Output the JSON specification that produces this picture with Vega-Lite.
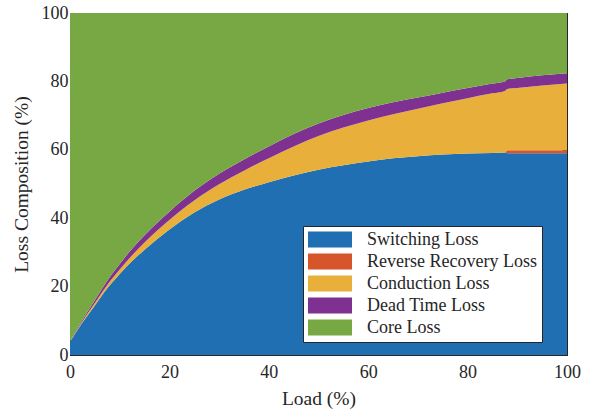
{
  "$schema": "https://vega.github.io/schema/vega-lite/v6.json",
  "width": 497,
  "height": 342,
  "autosize": "none",
  "padding": {"left": 70, "top": 13, "right": 25, "bottom": 57},
  "background": "white",
  "config": {
    "font": "Liberation Serif",
    "view": {"stroke": "#262626", "strokeWidth": 1},
    "axis": {
      "labelFont": "Liberation Serif",
      "titleFont": "Liberation Serif",
      "labelFontSize": 18,
      "titleFontSize": 19.5,
      "titleFontWeight": "normal",
      "labelColor": "#262626",
      "titleColor": "#262626",
      "domainColor": "#262626",
      "tickColor": "#262626",
      "grid": false
    }
  },
  "datasets": {
    "loss": [
      {"load": 0, "type": "Switching Loss", "rank": 1, "value": 3.8},
      {"load": 2.5, "type": "Switching Loss", "rank": 1, "value": 9.5},
      {"load": 5, "type": "Switching Loss", "rank": 1, "value": 14.5},
      {"load": 7.5, "type": "Switching Loss", "rank": 1, "value": 19.5},
      {"load": 10, "type": "Switching Loss", "rank": 1, "value": 23.7},
      {"load": 12.5, "type": "Switching Loss", "rank": 1, "value": 27.5},
      {"load": 15, "type": "Switching Loss", "rank": 1, "value": 30.8},
      {"load": 20, "type": "Switching Loss", "rank": 1, "value": 36.7},
      {"load": 25, "type": "Switching Loss", "rank": 1, "value": 41.7},
      {"load": 30, "type": "Switching Loss", "rank": 1, "value": 45.5},
      {"load": 35, "type": "Switching Loss", "rank": 1, "value": 48.3},
      {"load": 40, "type": "Switching Loss", "rank": 1, "value": 50.5},
      {"load": 45, "type": "Switching Loss", "rank": 1, "value": 52.5},
      {"load": 50, "type": "Switching Loss", "rank": 1, "value": 54.2},
      {"load": 55, "type": "Switching Loss", "rank": 1, "value": 55.5},
      {"load": 60, "type": "Switching Loss", "rank": 1, "value": 56.6},
      {"load": 65, "type": "Switching Loss", "rank": 1, "value": 57.5},
      {"load": 70, "type": "Switching Loss", "rank": 1, "value": 58.1},
      {"load": 75, "type": "Switching Loss", "rank": 1, "value": 58.6},
      {"load": 80, "type": "Switching Loss", "rank": 1, "value": 58.9},
      {"load": 85, "type": "Switching Loss", "rank": 1, "value": 59.1},
      {"load": 87.5, "type": "Switching Loss", "rank": 1, "value": 59.2},
      {"load": 88, "type": "Switching Loss", "rank": 1, "value": 59.0},
      {"load": 90, "type": "Switching Loss", "rank": 1, "value": 59.0},
      {"load": 95, "type": "Switching Loss", "rank": 1, "value": 59.0},
      {"load": 100, "type": "Switching Loss", "rank": 1, "value": 59.0},

      {"load": 0, "type": "Reverse Recovery Loss", "rank": 2, "value": 0},
      {"load": 2.5, "type": "Reverse Recovery Loss", "rank": 2, "value": 0},
      {"load": 5, "type": "Reverse Recovery Loss", "rank": 2, "value": 0},
      {"load": 7.5, "type": "Reverse Recovery Loss", "rank": 2, "value": 0},
      {"load": 10, "type": "Reverse Recovery Loss", "rank": 2, "value": 0},
      {"load": 12.5, "type": "Reverse Recovery Loss", "rank": 2, "value": 0},
      {"load": 15, "type": "Reverse Recovery Loss", "rank": 2, "value": 0},
      {"load": 20, "type": "Reverse Recovery Loss", "rank": 2, "value": 0},
      {"load": 25, "type": "Reverse Recovery Loss", "rank": 2, "value": 0},
      {"load": 30, "type": "Reverse Recovery Loss", "rank": 2, "value": 0},
      {"load": 35, "type": "Reverse Recovery Loss", "rank": 2, "value": 0},
      {"load": 40, "type": "Reverse Recovery Loss", "rank": 2, "value": 0},
      {"load": 45, "type": "Reverse Recovery Loss", "rank": 2, "value": 0},
      {"load": 50, "type": "Reverse Recovery Loss", "rank": 2, "value": 0},
      {"load": 55, "type": "Reverse Recovery Loss", "rank": 2, "value": 0},
      {"load": 60, "type": "Reverse Recovery Loss", "rank": 2, "value": 0},
      {"load": 65, "type": "Reverse Recovery Loss", "rank": 2, "value": 0},
      {"load": 70, "type": "Reverse Recovery Loss", "rank": 2, "value": 0},
      {"load": 75, "type": "Reverse Recovery Loss", "rank": 2, "value": 0},
      {"load": 80, "type": "Reverse Recovery Loss", "rank": 2, "value": 0},
      {"load": 85, "type": "Reverse Recovery Loss", "rank": 2, "value": 0},
      {"load": 87.5, "type": "Reverse Recovery Loss", "rank": 2, "value": 0},
      {"load": 88, "type": "Reverse Recovery Loss", "rank": 2, "value": 0.9},
      {"load": 90, "type": "Reverse Recovery Loss", "rank": 2, "value": 0.9},
      {"load": 95, "type": "Reverse Recovery Loss", "rank": 2, "value": 0.9},
      {"load": 100, "type": "Reverse Recovery Loss", "rank": 2, "value": 0.9},

      {"load": 0, "type": "Conduction Loss", "rank": 3, "value": 0.1},
      {"load": 2.5, "type": "Conduction Loss", "rank": 3, "value": 0.3},
      {"load": 5, "type": "Conduction Loss", "rank": 3, "value": 0.7},
      {"load": 7.5, "type": "Conduction Loss", "rank": 3, "value": 1.0},
      {"load": 10, "type": "Conduction Loss", "rank": 3, "value": 1.3},
      {"load": 12.5, "type": "Conduction Loss", "rank": 3, "value": 1.7},
      {"load": 15, "type": "Conduction Loss", "rank": 3, "value": 2.1},
      {"load": 20, "type": "Conduction Loss", "rank": 3, "value": 2.8},
      {"load": 25, "type": "Conduction Loss", "rank": 3, "value": 3.5},
      {"load": 30, "type": "Conduction Loss", "rank": 3, "value": 4.4},
      {"load": 35, "type": "Conduction Loss", "rank": 3, "value": 5.6},
      {"load": 40, "type": "Conduction Loss", "rank": 3, "value": 7.0},
      {"load": 45, "type": "Conduction Loss", "rank": 3, "value": 8.5},
      {"load": 50, "type": "Conduction Loss", "rank": 3, "value": 9.8},
      {"load": 55, "type": "Conduction Loss", "rank": 3, "value": 11.0},
      {"load": 60, "type": "Conduction Loss", "rank": 3, "value": 12.0},
      {"load": 65, "type": "Conduction Loss", "rank": 3, "value": 12.9},
      {"load": 70, "type": "Conduction Loss", "rank": 3, "value": 13.9},
      {"load": 75, "type": "Conduction Loss", "rank": 3, "value": 15.0},
      {"load": 80, "type": "Conduction Loss", "rank": 3, "value": 16.2},
      {"load": 85, "type": "Conduction Loss", "rank": 3, "value": 17.4},
      {"load": 87.5, "type": "Conduction Loss", "rank": 3, "value": 18.0},
      {"load": 88, "type": "Conduction Loss", "rank": 3, "value": 17.9},
      {"load": 90, "type": "Conduction Loss", "rank": 3, "value": 18.2},
      {"load": 95, "type": "Conduction Loss", "rank": 3, "value": 18.9},
      {"load": 100, "type": "Conduction Loss", "rank": 3, "value": 19.5},

      {"load": 0, "type": "Dead Time Loss", "rank": 4, "value": 0.1},
      {"load": 2.5, "type": "Dead Time Loss", "rank": 4, "value": 0.4},
      {"load": 5, "type": "Dead Time Loss", "rank": 4, "value": 0.8},
      {"load": 7.5, "type": "Dead Time Loss", "rank": 4, "value": 1.2},
      {"load": 10, "type": "Dead Time Loss", "rank": 4, "value": 1.6},
      {"load": 12.5, "type": "Dead Time Loss", "rank": 4, "value": 1.9},
      {"load": 15, "type": "Dead Time Loss", "rank": 4, "value": 2.1},
      {"load": 20, "type": "Dead Time Loss", "rank": 4, "value": 2.4},
      {"load": 25, "type": "Dead Time Loss", "rank": 4, "value": 2.8},
      {"load": 30, "type": "Dead Time Loss", "rank": 4, "value": 3.1},
      {"load": 35, "type": "Dead Time Loss", "rank": 4, "value": 3.3},
      {"load": 40, "type": "Dead Time Loss", "rank": 4, "value": 3.5},
      {"load": 45, "type": "Dead Time Loss", "rank": 4, "value": 3.6},
      {"load": 50, "type": "Dead Time Loss", "rank": 4, "value": 3.7},
      {"load": 55, "type": "Dead Time Loss", "rank": 4, "value": 3.7},
      {"load": 60, "type": "Dead Time Loss", "rank": 4, "value": 3.6},
      {"load": 65, "type": "Dead Time Loss", "rank": 4, "value": 3.5},
      {"load": 70, "type": "Dead Time Loss", "rank": 4, "value": 3.3},
      {"load": 75, "type": "Dead Time Loss", "rank": 4, "value": 3.1},
      {"load": 80, "type": "Dead Time Loss", "rank": 4, "value": 3.0},
      {"load": 85, "type": "Dead Time Loss", "rank": 4, "value": 2.9},
      {"load": 87.5, "type": "Dead Time Loss", "rank": 4, "value": 2.8},
      {"load": 88, "type": "Dead Time Loss", "rank": 4, "value": 2.8},
      {"load": 90, "type": "Dead Time Loss", "rank": 4, "value": 2.9},
      {"load": 95, "type": "Dead Time Loss", "rank": 4, "value": 3.0},
      {"load": 100, "type": "Dead Time Loss", "rank": 4, "value": 3.0},

      {"load": 0, "type": "Core Loss", "rank": 5, "value": 96.0},
      {"load": 2.5, "type": "Core Loss", "rank": 5, "value": 89.8},
      {"load": 5, "type": "Core Loss", "rank": 5, "value": 84.0},
      {"load": 7.5, "type": "Core Loss", "rank": 5, "value": 78.3},
      {"load": 10, "type": "Core Loss", "rank": 5, "value": 73.4},
      {"load": 12.5, "type": "Core Loss", "rank": 5, "value": 68.9},
      {"load": 15, "type": "Core Loss", "rank": 5, "value": 65.0},
      {"load": 20, "type": "Core Loss", "rank": 5, "value": 58.1},
      {"load": 25, "type": "Core Loss", "rank": 5, "value": 52.0},
      {"load": 30, "type": "Core Loss", "rank": 5, "value": 47.0},
      {"load": 35, "type": "Core Loss", "rank": 5, "value": 42.8},
      {"load": 40, "type": "Core Loss", "rank": 5, "value": 39.0},
      {"load": 45, "type": "Core Loss", "rank": 5, "value": 35.4},
      {"load": 50, "type": "Core Loss", "rank": 5, "value": 32.3},
      {"load": 55, "type": "Core Loss", "rank": 5, "value": 29.8},
      {"load": 60, "type": "Core Loss", "rank": 5, "value": 27.8},
      {"load": 65, "type": "Core Loss", "rank": 5, "value": 26.1},
      {"load": 70, "type": "Core Loss", "rank": 5, "value": 24.7},
      {"load": 75, "type": "Core Loss", "rank": 5, "value": 23.3},
      {"load": 80, "type": "Core Loss", "rank": 5, "value": 21.9},
      {"load": 85, "type": "Core Loss", "rank": 5, "value": 20.6},
      {"load": 87.5, "type": "Core Loss", "rank": 5, "value": 20.0},
      {"load": 88, "type": "Core Loss", "rank": 5, "value": 19.4},
      {"load": 90, "type": "Core Loss", "rank": 5, "value": 19.0},
      {"load": 95, "type": "Core Loss", "rank": 5, "value": 18.2},
      {"load": 100, "type": "Core Loss", "rank": 5, "value": 17.6}
    ]
  },
  "data": {"name": "loss"},
  "layer": [
    {
      "mark": {"type": "area", "interpolate": "monotone", "strokeWidth": 0},
      "encoding": {
        "x": {
          "field": "load", "type": "quantitative",
          "scale": {"domain": [0, 100], "nice": false, "zero": false},
          "axis": {"values": [0, 20, 40, 60, 80, 100], "title": "Load (%)", "tickSize": -5, "labelPadding": 13, "titlePadding": 8, "labelFlush": false}
        },
        "y": {
          "field": "value", "type": "quantitative", "stack": "zero",
          "scale": {"domain": [0, 100], "nice": false},
          "axis": {"values": [0, 20, 40, 60, 80, 100], "title": "Loss Composition (%)", "tickSize": -5, "labelPadding": 7, "titlePadding": 10, "labelFlush": false}
        },
        "order": {"field": "rank", "type": "quantitative", "sort": "ascending"},
        "color": {
          "field": "type", "type": "nominal",
          "sort": ["Switching Loss", "Reverse Recovery Loss", "Conduction Loss", "Dead Time Loss", "Core Loss"],
          "scale": {
            "domain": ["Switching Loss", "Reverse Recovery Loss", "Conduction Loss", "Dead Time Loss", "Core Loss"],
            "range": ["#1f6fb2", "#d6552a", "#e8b03a", "#7e3191", "#78a843"]
          },
          "legend": {
            "title": null,
            "orient": "none",
            "legendX": 233,
            "legendY": 213,
            "fillColor": "white",
            "strokeColor": "#262626",
            "padding": 5,
            "symbolType": "M-1,-0.36L1,-0.36L1,0.36L-1,0.36Z",
            "symbolSize": 1936,
            "symbolStrokeWidth": 0,
            "symbolOpacity": 1,
            "clipHeight": 17,
            "rowPadding": 3,
            "labelFont": "Liberation Serif",
            "labelFontSize": 18,
            "labelColor": "#262626",
            "labelOffset": 15,
            "labelLimit": 300
          }
        }
      }
    },
    {
      "mark": {"type": "point", "opacity": 0},
      "encoding": {
        "x": {
          "field": "load", "type": "quantitative",
          "axis": {"orient": "top", "values": [0, 20, 40, 60, 80, 100], "labels": false, "title": null, "tickSize": -5, "domain": false}
        },
        "y": {
          "field": "value", "type": "quantitative",
          "axis": {"orient": "right", "values": [0, 20, 40, 60, 80, 100], "labels": false, "title": null, "tickSize": -5, "domain": false}
        }
      }
    }
  ],
  "resolve": {"axis": {"x": "independent", "y": "independent"}}
}
